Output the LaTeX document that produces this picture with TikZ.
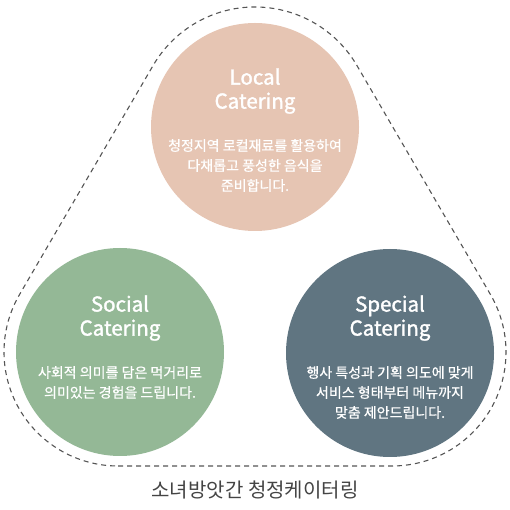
\documentclass[tikz,border=0pt]{standalone}
\usepackage{fontspec}
\setmainfont{Noto Sans CJK KR}
\newfontfamily\titlefont[FakeBold=1.6]{Noto Sans CJK KR}
\newfontfamily\bodyfont[FakeBold=0.6]{Noto Sans CJK KR}
\usetikzlibrary{positioning}
\definecolor{peach}{RGB}{230,197,179}
\definecolor{sage}{RGB}{148,184,150}
\definecolor{slate}{RGB}{96,117,129}
\definecolor{dashgray}{RGB}{85,85,85}
\definecolor{textgray}{RGB}{68,68,68}

\begin{document}
\begin{tikzpicture}[x=1pt, y=1pt,
    disc/.style={circle, minimum size=208pt, inner sep=0pt},
    title/.style={white, font=\titlefont\fontsize{20.5}{24}\selectfont, align=center, inner sep=0pt},
    body/.style={white, font=\bodyfont\fontsize{14}{20}\selectfont, align=center, inner sep=0pt}]
            \useasboundingbox (0,0) rectangle (510,510);
            % Outline
            \draw[dashgray, line width=1.1pt, dash pattern=on 5pt off 4pt] (118,44) -- (392,44)
                arc[start angle=-90, end angle=30.24, radius=114] -- (356.94,444.44)
                arc[start angle=30.24, end angle=149.76, radius=118] -- (19.52,215.42)
                arc[start angle=149.76, end angle=270, radius=114] -- cycle;

            % Circles
            \node[disc, fill=peach] (local) at (255,383) {};
            \node[disc, fill=sage] (social) at (120,158) {};
            \node[disc, fill=slate] (special) at (390,157) {};

            % Texts
            \node[title] (localtitle) at ([yshift=36]local.center) {Local\\Catering};
            \node[body, below=25pt of localtitle] (localtext) {청정지역 로컬재료를 활용하여\\다채롭고 풍성한 음식을\\준비합니다.};

            \node[title] (socialtitle) at ([yshift=34]social.center) {Social\\Catering};
            \node[body, below=25pt of socialtitle] (socialtext) {사회적 의미를 담은 먹거리로\\의미있는 경험을 드립니다.};

            \node[title] (specialtitle) at ([yshift=35]special.center) {Special\\Catering};
            \node[body, below=25pt of specialtitle] (specialtext) {행사 특성과 기획 의도에 맞게\\서비스 형태부터 메뉴까지\\맞춤 제안드립니다.};

            \node[textgray, font=\fontsize{20}{24}\selectfont] (brand) at (255,20) {소녀방앗간 청정케이터링};
        \end{tikzpicture}
\end{document}
